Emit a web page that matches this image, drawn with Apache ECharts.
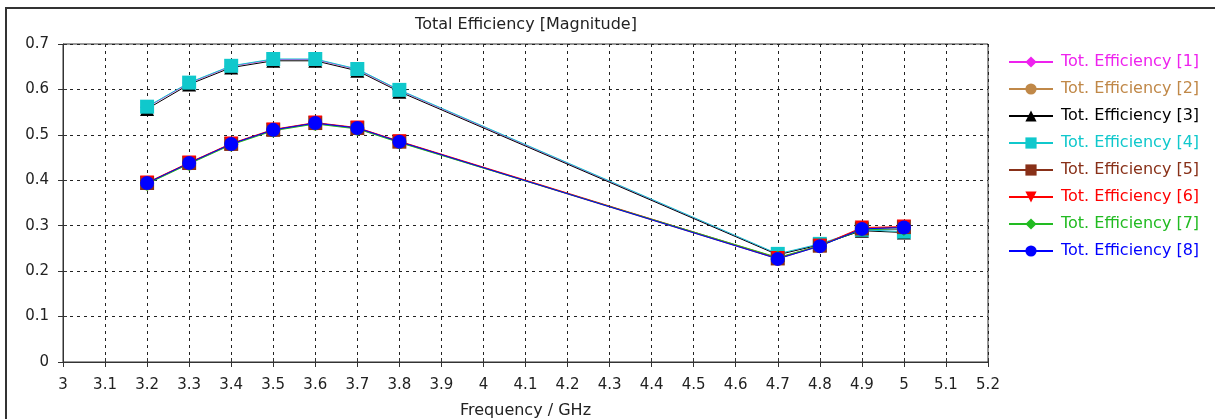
<!DOCTYPE html>
<html>
<head>
<meta charset="utf-8">
<script src="https://cdn.jsdelivr.net/npm/echarts@6/dist/echarts.min.js"></script>
<style>
html,body{margin:0;padding:0;background:#fff;}
#c{width:1215px;height:419px;}
</style>
</head>
<body>
<div id="c"></div>
<script>
const freqs = [3.2, 3.3, 3.4, 3.5, 3.6, 3.7, 3.8, 4.7, 4.8, 4.9, 5.0];
const names = ['Tot. Efficiency [1]','Tot. Efficiency [2]','Tot. Efficiency [3]','Tot. Efficiency [4]','Tot. Efficiency [5]','Tot. Efficiency [6]','Tot. Efficiency [7]','Tot. Efficiency [8]'];
const eff1 = [0.561, 0.614, 0.651, 0.666, 0.666, 0.644, 0.598, 0.237, 0.259, 0.290, 0.292];
const eff2 = [0.393, 0.437, 0.479, 0.510, 0.525, 0.514, 0.484, 0.227, 0.255, 0.293, 0.296];
const eff3 = [0.557, 0.611, 0.648, 0.663, 0.663, 0.641, 0.595, 0.236, 0.258, 0.289, 0.285];
const eff4 = [0.562, 0.615, 0.652, 0.667, 0.667, 0.645, 0.599, 0.238, 0.260, 0.291, 0.287];
const eff5 = [0.394, 0.438, 0.480, 0.511, 0.526, 0.515, 0.485, 0.228, 0.256, 0.294, 0.297];
const eff6 = [0.395, 0.439, 0.481, 0.512, 0.527, 0.516, 0.486, 0.229, 0.256, 0.296, 0.298];
const eff7 = [0.392, 0.436, 0.478, 0.509, 0.524, 0.513, 0.483, 0.230, 0.256, 0.291, 0.293];
const eff8 = [0.394, 0.438, 0.480, 0.511, 0.526, 0.515, 0.485, 0.227, 0.255, 0.293, 0.296];
const allData = [eff1, eff2, eff3, eff4, eff5, eff6, eff7, eff8];
const colors = ['#ee22ee', '#c08848', '#000000', '#10c8cc', '#883018', '#ff0000', '#22bb22', '#0000ff'];
const symbols = ['diamond', 'circle', 'triangle', 'rect', 'rect', 'path://M0,0 L10,0 L5,9 Z', 'diamond', 'circle'];
const sizes = [14, 14, 14, 14, 14, 14, 14, 14];

const chart = echarts.init(document.getElementById('c'), null, {renderer: 'canvas'});
const FONT = 'DejaVu Sans';

const series = names.map((n, i) => ({
  name: n,
  type: 'line',
  xAxisIndex: 0, yAxisIndex: 0,
  data: freqs.map((f, j) => [f, allData[i][j]]),
  symbol: symbols[i],
  symbolSize: sizes[i],
  showAllSymbol: true,
  smooth: false,
  lineStyle: {color: colors[i], width: 1},
  itemStyle: {color: colors[i]},
  emphasis: {disabled: true},
  animation: false
}));

const lbl = v => String(Math.round(v * 10) / 10);

chart.setOption({
  animation: false,
  backgroundColor: '#fff',
  title: {
    text: 'Total Efficiency [Magnitude]',
    left: 521, top: 12, textAlign: 'center',
    textStyle: {fontFamily: FONT, fontSize: 16, fontWeight: 'normal', color: '#222'}
  },
  graphic: [{
    type: 'rect', shape: {x: 6, y: 8, width: 1400, height: 600},
    style: {fill: 'none', stroke: '#333', lineWidth: 2}, silent: true
  }],
  legend: {
    orient: 'vertical', left: 1003, top: 49,
    itemWidth: 44, itemHeight: 14, itemGap: 11,
    data: names.map((n, i) => ({name: n, textStyle: {color: colors[i]}})),
    textStyle: {fontFamily: FONT, fontSize: 16, padding: [0, 0, 0, 3]}
  },
  grid: {
    left: 63, top: 44, right: 227, bottom: 57,
    outerBoundsMode: 'none',
    show: true, borderColor: '#333', borderWidth: 1, containLabel: false
  },
  xAxis: [{
    type: 'value', min: 3, max: 5.2, interval: 0.1,
    name: 'Frequency / GHz', nameLocation: 'middle', nameGap: 41,
    nameTextStyle: {fontFamily: FONT, fontSize: 16, color: '#222'},
    axisLine: {show: true, onZero: false, lineStyle: {color: '#333'}},
    axisTick: {show: true, length: 5, lineStyle: {color: '#333'}},
    axisLabel: {fontFamily: FONT, fontSize: 15, color: '#222', margin: 16, formatter: lbl},
    splitLine: {show: true, lineStyle: {color: '#222', type: [3, 4], width: 1}}
  }, {
    type: 'value', min: 3, max: 5.2, interval: 0.1, position: 'bottom',
    axisLine: {show: false}, axisLabel: {show: false}, splitLine: {show: false},
    axisTick: {show: true, inside: true, length: 4, lineStyle: {color: '#333'}}
  }],
  yAxis: [{
    type: 'value', min: 0, max: 0.7, interval: 0.1,
    axisLine: {show: true, lineStyle: {color: '#333'}},
    axisTick: {show: true, length: 5, lineStyle: {color: '#333'}},
    axisLabel: {fontFamily: FONT, fontSize: 15, color: '#222', margin: 14, formatter: lbl},
    splitLine: {show: true, lineStyle: {color: '#222', type: [3, 4], width: 1}}
  }, {
    type: 'value', min: 0, max: 0.7, interval: 0.1, position: 'left',
    axisLine: {show: false}, axisLabel: {show: false}, splitLine: {show: false},
    axisTick: {show: true, inside: true, length: 4, lineStyle: {color: '#333'}}
  }],
  series: series
});
</script>
</body>
</html>
